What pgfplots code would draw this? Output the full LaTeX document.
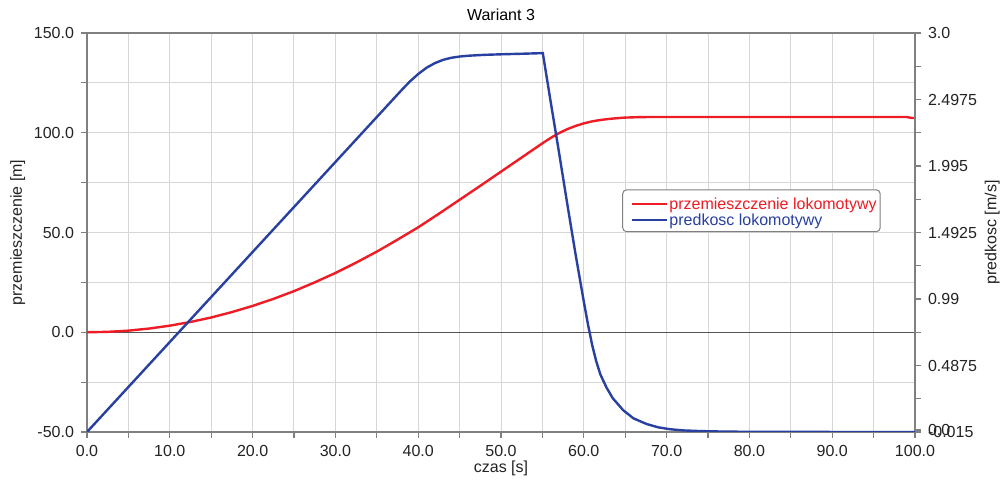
\documentclass[border=0pt]{standalone}
\usepackage{fontspec}
\setmainfont{Liberation Sans}
\usepackage{pgfplots}
\pgfplotsset{compat=1.18}
\usetikzlibrary{calc}
\definecolor{axgray}{RGB}{128,128,128}
\definecolor{gridgray}{RGB}{215,215,215}
\definecolor{txtgray}{RGB}{35,35,35}
\definecolor{lred}{RGB}{238,28,36}
\definecolor{lblue}{RGB}{40,64,160}
\definecolor{zerogray}{RGB}{85,85,85}

\pgfplotsset{
  common/.style={
    width=414pt, height=199.5pt, scale only axis,
    xmin=0, xmax=100,
    tick align=outside,
    major tick length=3pt, minor tick length=3pt,
    every tick/.style={axgray, line width=0.6pt},
    axis line style={axgray, line width=0.8pt},
    tick label style={text=txtgray},
    label style={text=txtgray},
    /pgf/number format/assume math mode=true,
  },
}

\begin{document}
\begin{tikzpicture}[font=\fontsize{8}{9.6}\selectfont]
\begin{axis}[common,
  name=ax,
  ymin=-50, ymax=150,
  xtick={0,10,...,100}, minor x tick num=1,
  ytick={-50,0,...,150}, minor y tick num=1,
  xtick pos=bottom, ytick pos=left,
  grid=both,
  major grid style={gridgray, line width=0.5pt},
  minor grid style={gridgray, line width=0.5pt},
  xticklabel style={/pgf/number format/.cd, fixed, fixed zerofill, precision=1},
  yticklabel style={/pgf/number format/.cd, fixed, fixed zerofill, precision=1},
  xlabel={czas [s]},
  xlabel style={yshift=4.5pt},
  ylabel={przemieszczenie [m]},
  ylabel style={yshift=-2.5pt},
  title={Wariant 3},
  title style={yshift=-3.5pt},
]
\addplot[zerogray, line width=0.6pt, forget plot] coordinates {(0,0) (100,0)};
\addplot[color=lred, line width=1.2pt] coordinates {
(0,0) (2.5,0.2) (5,0.8) (7.5,1.85) (10,3.3) (12.5,5.15) (15,7.4) (17.5,10.1)
(20,13.2) (22.5,16.7) (25,20.6) (27.5,25.0) (30,29.7) (32.5,34.9) (35,40.4)
(37.5,46.4) (40,52.6) (42.5,59.4) (45,66.4) (47.5,73.4) (50,80.5) (52.5,87.6)
(55,94.7) (56,97.4) (57,99.8) (58,101.8) (59,103.4) (60,104.7) (61,105.7)
(62,106.4) (63,106.9) (64,107.3) (65,107.6) (66.5,107.8) (68,107.9) (99,107.9)
(99.6,107.4) (100,107.4)
};
\coordinate (sw) at (rel axis cs:0,0);
\coordinate (ne) at (rel axis cs:1,1);
\end{axis}

\begin{axis}[common,
  ymin=-0.015, ymax=3.0,
  axis x line=none,
  axis y line*=right,
  ytick={-0.015,0,0.4875,0.99,1.4925,1.995,2.4975,3.0},
  yticklabels={-0.015,0.0,0.4875,0.99,1.4925,1.995,2.4975,3.0},
  minor ytick={0.23625,0.73875,1.24125,1.74375,2.24625,2.74875},
  ylabel={predkosc [m/s]},
  ylabel style={yshift=3pt},
]
\addplot[color=lblue, line width=1.2pt] coordinates {
(0,-0.015) (38,2.569) (39,2.634) (40,2.69) (41,2.737) (42,2.772) (43,2.797)
(44,2.813) (45,2.822) (46,2.828) (48,2.835) (50,2.839) (53,2.844)
(55.05,2.848) (56,2.48) (57,2.10) (58,1.71) (59,1.33) (60,0.97) (60.5,0.80)
(61,0.645) (61.5,0.52) (62,0.42) (62.75,0.32) (63.5,0.24) (64.75,0.15)
(66,0.088) (67.6,0.045) (69,0.02) (70.4,0.006) (72,-0.003) (74,-0.008)
(77,-0.012) (80,-0.0135) (85,-0.0145) (100,-0.015)
};
% legend box
\draw[axgray, fill=white, rounded corners=2pt, line width=0.5pt]
  (rel axis cs:0.647,0.607) rectangle (rel axis cs:0.958,0.502);
\draw[lred, line width=0.8pt] (rel axis cs:0.658,0.571) -- (rel axis cs:0.700,0.571);
\draw[lblue, line width=0.8pt] (rel axis cs:0.658,0.531) -- (rel axis cs:0.700,0.531);
\node[anchor=mid west, inner sep=0pt, text=lred] at (rel axis cs:0.703,0.571) {przemieszczenie lokomotywy};
\node[anchor=mid west, inner sep=0pt, text=lblue] at (rel axis cs:0.703,0.531) {predkosc lokomotywy};
\end{axis}
\pgfresetboundingbox
\path ($(sw)+(-43.5pt,-24.5pt)$) rectangle ($(ne)+(46.5pt,16.5pt)$);
\end{tikzpicture}
\end{document}
